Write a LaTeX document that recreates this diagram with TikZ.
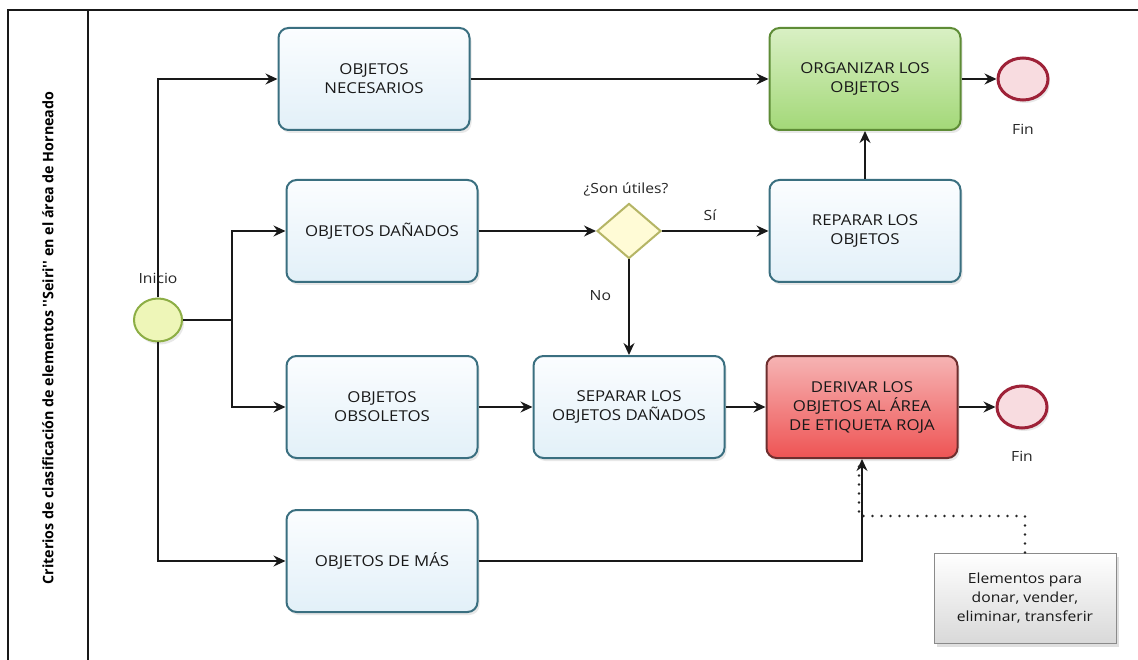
\documentclass[tikz,border=0pt]{standalone}
\usepackage{fontspec}
\setmainfont{Open Sans}[FakeStretch=1.12]
\newfontfamily\titlefont{Open Sans}[FakeStretch=0.9]
\usetikzlibrary{shapes.geometric,arrows.meta,shadows}
\definecolor{taskborder}{HTML}{3A6F80}
\definecolor{tasktop}{HTML}{FBFDFF}
\definecolor{taskbot}{HTML}{E2F0F8}
\definecolor{greenborder}{HTML}{5E8C36}
\definecolor{greentop}{HTML}{D9F0C4}
\definecolor{greenbot}{HTML}{A3D878}
\definecolor{redborder}{HTML}{6E2E2E}
\definecolor{redtop}{HTML}{F6B4B4}
\definecolor{redbot}{HTML}{EE5454}
\definecolor{startborder}{HTML}{8DAE45}
\definecolor{startfill}{HTML}{EEF6B8}
\definecolor{endborder}{HTML}{9E2238}
\definecolor{endfill}{HTML}{F8DCE0}
\definecolor{gateborder}{HTML}{B5B565}
\definecolor{gatefill}{HTML}{FFFBD6}
\definecolor{annborder}{HTML}{8A8A8A}
\tikzset{
  lbl/.style={font=\fontsize{15}{19}\selectfont, text=black!90, align=center},
  taskbox/.style={draw=taskborder, line width=2pt, rounded corners=10pt,
    top color=tasktop, bottom color=taskbot, minimum width=191pt, minimum height=102pt,
    lbl, drop shadow={opacity=0.18, shadow xshift=2pt, shadow yshift=-3pt}},
  greenbox/.style={taskbox, draw=greenborder, top color=greentop, bottom color=greenbot},
  redbox/.style={taskbox, draw=redborder, top color=redtop, bottom color=redbot},
  startev/.style={ellipse, draw=startborder, line width=2pt, fill=startfill,
    minimum width=48pt, minimum height=43pt, inner sep=0pt,
    drop shadow={opacity=0.18, shadow xshift=2pt, shadow yshift=-3pt}},
  endev/.style={ellipse, draw=endborder, line width=3pt, fill=endfill,
    minimum width=50pt, minimum height=42pt, inner sep=0pt,
    drop shadow={opacity=0.18, shadow xshift=2pt, shadow yshift=-3pt}},
  gate/.style={diamond, draw=gateborder, line width=2pt, fill=gatefill,
    minimum width=64pt, minimum height=55pt, inner sep=0pt},
  annot/.style={draw=annborder, line width=1pt, top color=white, bottom color=black!15,
    minimum width=182pt, minimum height=90pt, lbl, font=\fontsize{14}{19}\selectfont,
    drop shadow={opacity=0.25, shadow xshift=3pt, shadow yshift=-4pt}},
  flow/.style={draw=black!90, line width=1.3pt, -{Stealth[length=12pt,width=11pt]}},
  txt/.style={font=\fontsize{14}{17}\selectfont, text=black!85},
  assoc/.style={draw=black!85, line width=2.6pt, line cap=round, dash pattern=on 0pt off 9pt}
}
\begin{document}
\begin{tikzpicture}[x=1pt,y=-1pt]
\useasboundingbox (0,0) rectangle (1138,660);
\fill[white] (0,0) rectangle (1138,660);
% pool frame
\draw[line width=1.4pt, black!90] (8,660) -- (8,10) -- (1138,10);
\draw[line width=1.4pt, black!90] (88,10) -- (88,660);
\node[rotate=90, text=black] (title) at (48,338)
  {\resizebox{493pt}{\height}{\titlefont\fontsize{14.5}{16}\selectfont\bfseries Criterios de clasificación de elementos ''Seiri'' en el área de Horneado}};

% nodes
\node[startev] (start) at (158,320) {};
\node[txt] (startlbl) at (158,278) {Inicio};

\node[taskbox] (nec) at (374,79) {OBJETOS\\NECESARIOS};
\node[taskbox] (dan) at (382,231) {OBJETOS DAÑADOS};
\node[taskbox] (obs) at (382,407) {OBJETOS\\OBSOLETOS};
\node[taskbox] (mas) at (382,561) {OBJETOS DE MÁS};
\node[taskbox] (sep) at (629,407) {SEPARAR LOS\\OBJETOS DAÑADOS};
\node[greenbox] (org) at (865,79) {ORGANIZAR LOS\\OBJETOS};
\node[taskbox] (rep) at (865,231) {REPARAR LOS\\OBJETOS};
\node[redbox] (der) at (862,407) {DERIVAR LOS\\OBJETOS AL ÁREA\\DE ETIQUETA ROJA};

\node[gate] (gw) at (629,231) {};
\node[txt] (gwlbl) at (626,189) {¿Son útiles?};

\node[endev] (fin1) at (1023,79) {};
\node[txt] (fin1lbl) at (1023,129) {Fin};
\node[endev] (fin2) at (1022,407) {};
\node[txt] (fin2lbl) at (1022,456) {Fin};

\node[annot] (ann) at (1025,598) {Elementos para\\donar, vender,\\eliminar, transferir};

% junction coordinates
\coordinate (jn) at (232,320);

% connectors
\draw[flow] (start.north) |- (nec.west);
\draw[flow] (start.south) |- (mas.west);
\draw[line width=1.3pt, black!90] (start.east) -- (jn);
\draw[flow] (jn) |- (dan.west);
\draw[flow] (jn) |- (obs.west);

\draw[flow] (nec.east) -- (org.west);
\draw[flow] (org.east) -- (fin1.west);
\draw[flow] (dan.east) -- (gw.west);
\draw[flow] (gw.east) -- node[txt, above=6pt, pos=0.45] (si) {Sí} (rep.west);
\draw[flow] (gw.south) -- node[txt, left=14pt, pos=0.38] (no) {No} (sep.north);
\draw[flow] (rep.north) -- (org.south);
\draw[flow] (obs.east) -- (sep.west);
\draw[flow] (sep.east) -- (der.west);
\draw[flow] (der.east) -- (fin2.west);
\draw[flow] (mas.east) -| (der.south);

\coordinate (dc) at (859,516);
\draw[assoc] (ann.north) |- (dc) -- (dc |- der.south);
\end{tikzpicture}
\end{document}
